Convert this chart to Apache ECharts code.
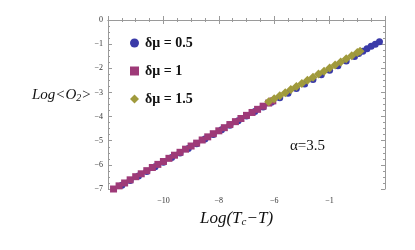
<!DOCTYPE html>
<html><head><meta charset="utf-8">
<script src="https://cdn.jsdelivr.net/npm/echarts@6/dist/echarts.min.js"></script>
<style>html,body{margin:0;padding:0;background:#fff}#c{width:415px;height:250px}</style>
</head><body><div id="c"></div>
<script>
const seriesNames = ['δμ = 0.5', 'δμ = 1', 'δμ = 1.5'];
const xTicks = [-12, -10, -8, -6, -4, -2];
const xTickLabels = ['', '−10', '−8', '−6', '−1', ''];
const yTickLabels = ['−7', '−6', '−5', '−4', '−3', '−2', '−1', '0'];

const x05 = [-11.8,-11.5,-11.2,-10.9,-10.6,-10.3,-10.0,-9.7,-9.4,-9.1,-8.8,-8.5,-8.2,-7.9,-7.6,-7.3,-7.0,-6.7,-6.4,-6.1,-5.8,-5.5,-5.2,-4.9,-4.6,-4.3,-4.0,-3.7,-3.4,-3.1,-2.95,-2.8,-2.65,-2.5,-2.35,-2.2];
const y05 = [-7.03,-6.84,-6.65,-6.46,-6.27,-6.08,-5.89,-5.70,-5.51,-5.32,-5.13,-4.93,-4.74,-4.55,-4.36,-4.17,-3.98,-3.79,-3.60,-3.41,-3.22,-3.03,-2.84,-2.65,-2.46,-2.27,-2.08,-1.89,-1.70,-1.51,-1.39,-1.29,-1.19,-1.09,-1.00,-0.90];

const x1 = [-11.8,-11.6,-11.4,-11.2,-11.0,-10.8,-10.6,-10.4,-10.2,-10.0,-9.8,-9.6,-9.4,-9.2,-9.0,-8.8,-8.6,-8.4,-8.2,-8.0,-7.8,-7.6,-7.4,-7.2,-7.0,-6.8,-6.6,-6.4,-6.2,-6.05];
const y1 = [-7.00,-6.87,-6.75,-6.62,-6.49,-6.37,-6.24,-6.11,-5.98,-5.86,-5.73,-5.60,-5.48,-5.35,-5.22,-5.10,-4.97,-4.84,-4.71,-4.59,-4.46,-4.33,-4.21,-4.08,-3.95,-3.83,-3.70,-3.57,-3.44,-3.35];

const x15 = [-6.2,-6.0,-5.8,-5.6,-5.4,-5.2,-5.0,-4.8,-4.6,-4.4,-4.2,-4.0,-3.8,-3.6,-3.4,-3.2,-3.0,-2.9];
const y15 = [-3.39,-3.26,-3.14,-3.01,-2.88,-2.75,-2.63,-2.50,-2.37,-2.24,-2.12,-1.99,-1.86,-1.74,-1.61,-1.48,-1.35,-1.29];

const pairs = (xs, ys) => xs.map((x, i) => [x, ys[i]]);
const serif = '"Liberation Serif", "DejaVu Serif", serif';
const frame = '#9a9a9a';

const chart = echarts.init(document.getElementById('c'), null, {renderer: 'canvas'});
const axisCommon = {
  axisLine: {show: true, lineStyle: {color: frame, width: 1}},
  splitLine: {show: false},
  axisTick: {show: true, inside: true, length: 4, lineStyle: {color: frame}},
  minorTick: {show: true, splitNumber: 4, length: 2, lineStyle: {color: frame}}
};
chart.setOption({
  animation: false,
  grid: {left: 108, right: 30, top: 20, bottom: 61},
  xAxis: [
    Object.assign({type: 'value', min: -12, max: -2, interval: 2, position: 'bottom',
      axisLabel: {fontFamily: serif, fontSize: 8, color: '#333', margin: 8,
        formatter: v => xTickLabels[xTicks.indexOf(v)] ?? ''}}, axisCommon),
    Object.assign({type: 'value', min: -12, max: -2, interval: 2, position: 'top',
      axisLabel: {show: false}}, axisCommon)
  ],
  yAxis: [
    Object.assign({type: 'value', min: -7, max: 0, interval: 1, position: 'left',
      axisLabel: {fontFamily: serif, fontSize: 8, color: '#333', margin: 5,
        formatter: v => yTickLabels[v + 7]}}, axisCommon),
    Object.assign({type: 'value', min: -7, max: 0, interval: 1, position: 'right',
      axisLabel: {show: false}}, axisCommon)
  ],
  legend: {
    orient: 'vertical', left: 125, top: 31, itemGap: 14, itemWidth: 9, itemHeight: 9,
    data: [
      {name: seriesNames[0], icon: 'circle'},
      {name: seriesNames[1], icon: 'rect'},
      {name: seriesNames[2], icon: 'diamond'}
    ],
    textStyle: {fontFamily: serif, fontSize: 14, fontWeight: 'bold', color: '#111', padding: [0, 0, 0, 1]}
  },
  series: [
    {name: seriesNames[0], type: 'scatter', symbol: 'circle', symbolSize: 7,
      itemStyle: {color: '#3a3aa8', opacity: 1}, data: pairs(x05, y05), z: 2},
    {name: seriesNames[1], type: 'scatter', symbol: 'rect', symbolSize: 7,
      itemStyle: {color: '#9e3a78', opacity: 1}, data: pairs(x1, y1), z: 3},
    {name: seriesNames[2], type: 'scatter', symbol: 'diamond', symbolSize: 9,
      itemStyle: {color: '#a09a3c', opacity: 1}, data: pairs(x15, y15), z: 4}
  ],
  graphic: [
    {type: 'text', left: 32, top: 88, style: {
      text: '{i|Log<O}{s|2}{i|>}', rich: {
        i: {fontFamily: serif, fontStyle: 'italic', fontSize: 15, fill: '#111'},
        s: {fontFamily: serif, fontStyle: 'italic', fontSize: 10, fill: '#111', padding: [6, 0, 0, 0]}
      }}},
    {type: 'text', left: 200, top: 210, style: {
      text: '{i|Log(T}{s|c}{i|−T)}', rich: {
        i: {fontFamily: serif, fontStyle: 'italic', fontSize: 17, fill: '#111'},
        s: {fontFamily: serif, fontStyle: 'italic', fontSize: 11, fill: '#111', padding: [7, 0, 0, 0]}
      }}},
    {type: 'text', left: 290, top: 139, style: {
      text: 'α=3.5', fontFamily: serif, fontSize: 15, fill: '#111'}}
  ]
});
</script></body></html>
